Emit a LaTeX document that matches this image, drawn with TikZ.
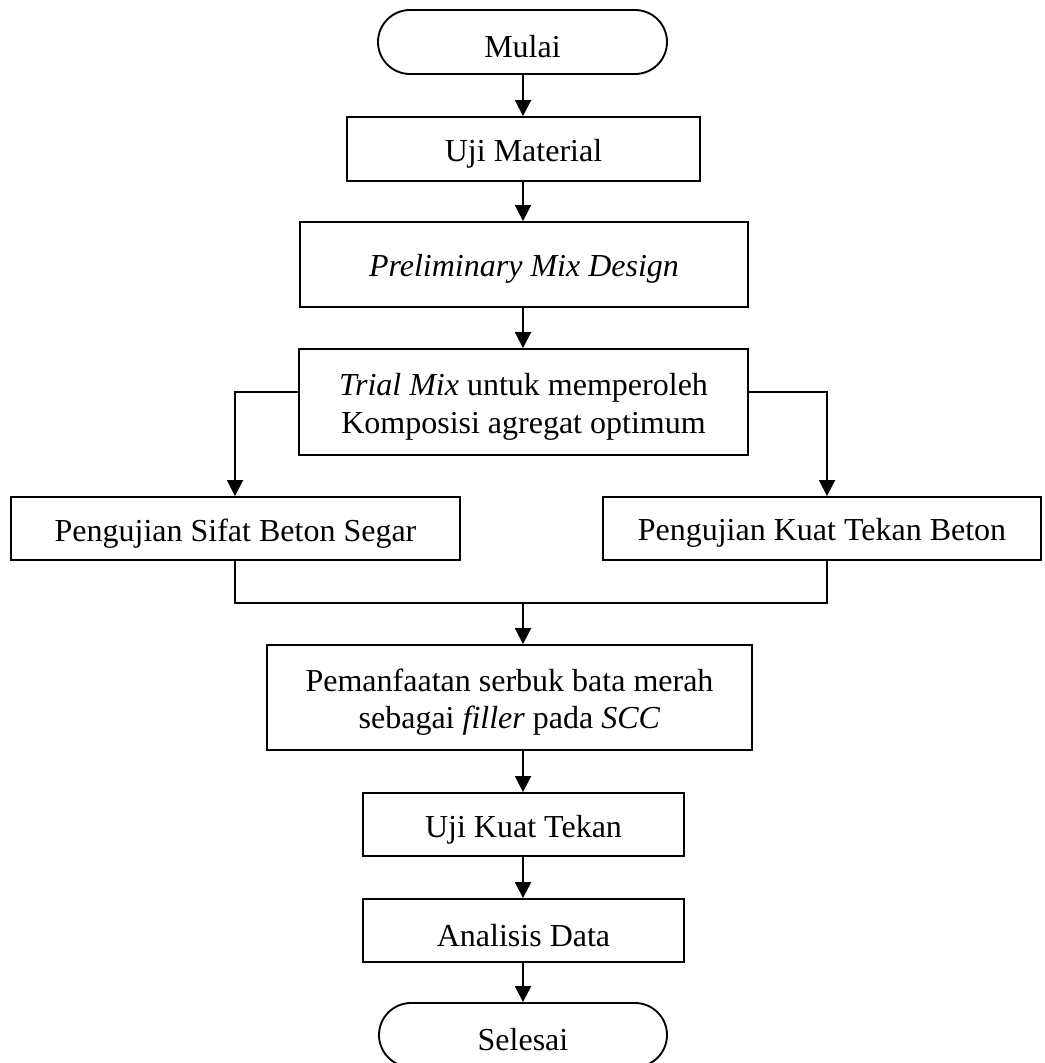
\documentclass[tikz,border=0pt]{standalone}
\usepackage{fontspec}
\setmainfont{Liberation Serif}
\usetikzlibrary{arrows.meta,calc}
\begin{document}
\begin{tikzpicture}[x=0.75pt,y=-0.75pt,
  every node/.style={font=\fontsize{24}{28}\selectfont},
  every label/.style={align=center,yshift=-3.6pt,inner sep=0pt},
  box/.style={draw,line width=1.4pt,rectangle,inner sep=0pt},
  term/.style={draw,line width=1.4pt,rectangle,rounded corners=24pt,inner sep=0pt},
  conn/.style={line width=1.4pt},
  arr/.style={line width=1.4pt,-{Triangle[length=12pt,width=12pt]}}]
\useasboundingbox (0,0) rectangle (1045,1063);
\clip (0,0) rectangle (1045,1063);
\node[term,minimum width=289*0.75pt,minimum height=64*0.75pt,label={center:Mulai}] (mulai) at (522.5,42) {};
\node[box,minimum width=353*0.75pt,minimum height=64*0.75pt,label={center:Uji Material}] (uji) at (523.5,149) {};
\node[box,minimum width=448*0.75pt,minimum height=85*0.75pt,label={center:\textit{Preliminary Mix Design}}] (prelim) at (524,264.5) {};
\node[box,minimum width=449*0.75pt,minimum height=106*0.75pt,label={center:{\textit{Trial Mix} untuk memperoleh\\Komposisi agregat optimum}}] (trial) at (523.5,402) {};
\node[box,minimum width=449*0.75pt,minimum height=63*0.75pt,label={center:Pengujian Sifat Beton Segar}] (sifat) at (235.5,528.5) {};
\node[box,minimum width=438*0.75pt,minimum height=63*0.75pt,label={center:Pengujian Kuat Tekan Beton}] (kuat) at (822,528.5) {};
\node[box,minimum width=485*0.75pt,minimum height=105*0.75pt,label={center:{Pemanfaatan serbuk bata merah\\sebagai \textit{filler} pada \textit{SCC}}}] (pem) at (509.5,697.5) {};
\node[box,minimum width=321*0.75pt,minimum height=63*0.75pt,label={center:Uji Kuat Tekan}] (ujik) at (523.5,824.5) {};
\node[box,minimum width=321*0.75pt,minimum height=63*0.75pt,label={center:Analisis Data}] (anal) at (523.5,930.5) {};
\node[term,minimum width=288*0.75pt,minimum height=64*0.75pt,label={center:Selesai}] (selesai) at (523,1035) {};
\coordinate (ax) at (523,0);
\draw[arr] (ax |- mulai.south) -- (ax |- uji.north);
\draw[arr] (ax |- uji.south) -- (ax |- prelim.north);
\draw[arr] (ax |- prelim.south) -- (ax |- trial.north);
\coordinate (lb) at (235,392);
\coordinate (rb) at (827,392);
\draw[arr] (lb -| trial.west) -- (lb) -- (lb |- sifat.north);
\draw[arr] (rb -| trial.east) -- (rb) -- (rb |- kuat.north);
\coordinate (j) at (523,603);
\draw[conn] (lb |- sifat.south) |- (j) -| (rb |- kuat.south);
\draw[arr] (j) -- (j |- pem.north);
\draw[arr] (ax |- pem.south) -- (ax |- ujik.north);
\draw[arr] (ax |- ujik.south) -- (ax |- anal.north);
\draw[arr] (ax |- anal.south) -- (ax |- selesai.north);
\end{tikzpicture}
\end{document}
